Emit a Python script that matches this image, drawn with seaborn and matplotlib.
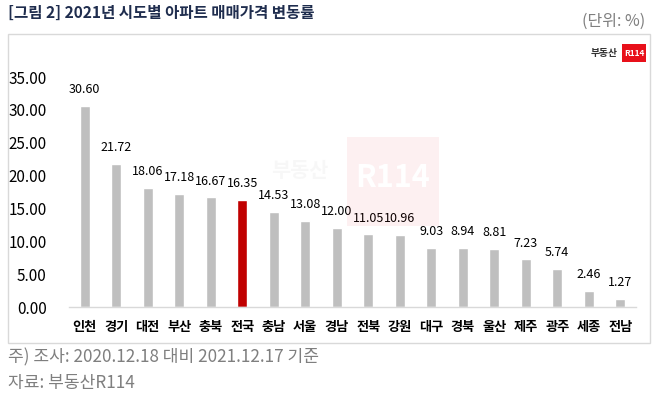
import matplotlib
matplotlib.use("Agg")
import matplotlib.pyplot as plt
import seaborn as sns
import pandas as pd
from matplotlib.patches import Rectangle

regions = ["인천", "경기", "대전", "부산", "충북", "전국", "충남", "서울", "경남",
           "전북", "강원", "대구", "경북", "울산", "제주", "광주", "세종", "전남"]
values = [30.60, 21.72, 18.06, 17.18, 16.67, 16.35, 14.53, 13.08, 12.00,
          11.05, 10.96, 9.03, 8.94, 8.81, 7.23, 5.74, 2.46, 1.27]
yticks = [0, 5, 10, 15, 20, 25, 30, 35]

sns.set_theme(style="white")
plt.rcParams['font.family'] = ['Noto Sans CJK KR', 'DejaVu Sans']

df = pd.DataFrame({"region": regions, "value": values})
colors = ["#c00000" if r == "전국" else "#bfbfbf" for r in regions]

fig = plt.figure(figsize=(6.58, 3.95), dpi=100)
W, H = 658, 395

# outer frame
fig.patches.append(Rectangle((8 / W, 1 - 343 / H), (650 - 8) / W, (343 - 34) / H,
                             transform=fig.transFigure, fill=False,
                             edgecolor="#d9d9d9", linewidth=1.0))

# watermark (behind chart)
fig.patches.append(Rectangle((347 / W, 1 - 226 / H), (439 - 347) / W, (226 - 137) / H,
                             transform=fig.transFigure, facecolor="#e8101a", alpha=0.06,
                             edgecolor="none", zorder=0))
fig.text(393 / W, 1 - 178 / H, "R114", fontsize=22, fontweight="bold", color="white",
         ha="center", va="center", zorder=0)
fig.text(300 / W, 1 - 170 / H, "부동산", fontsize=15, fontweight="bold", color="#999999",
         alpha=0.07, ha="center", va="center", zorder=0)

ax = fig.add_axes([69 / W, 1 - 307 / H, (636 - 69) / W, (307 - 77) / H])
ax.patch.set_alpha(0)
sns.barplot(data=df, x="region", y="value", hue="region", palette=colors,
            legend=False, width=0.32, ax=ax, saturation=1)

ax.set_ylim(0, 35)
ax.set_xlim(-0.5, 17.5)
ax.set_yticks(yticks)
ax.set_yticklabels([f"{t:.2f}" for t in yticks], fontsize=11, color="#000000")
ax.tick_params(axis="y", length=0, pad=16)
ax.tick_params(axis="x", length=0, pad=9)
for lbl in ax.get_xticklabels():
    lbl.set_fontweight("bold")
    lbl.set_fontsize(9.5)
    lbl.set_color("#000000")
ax.set_xlabel("")
ax.set_ylabel("")
for s in ["top", "right", "left"]:
    ax.spines[s].set_visible(False)
ax.spines["bottom"].set_color("#d9d9d9")
ax.spines["bottom"].set_linewidth(1.0)
ax.grid(False)

for i, v in enumerate(values):
    ax.text(i, v + 1.5, f"{v:.2f}", ha="center", va="bottom", fontsize=9, color="#000000")

# title and unit
fig.text(8 / W, 1 - 13 / H, "[그림 2] 2021년 시도별 아파트 매매가격 변동률", fontsize=11.2,
         fontweight="bold", color="#1f2d4e", ha="left", va="center")
fig.text(645 / W, 1 - 21 / H, "(단위: %)", fontsize=11.5, color="#7f7f7f",
         ha="right", va="center")

# logo
fig.text(618 / W, 1 - 53 / H, "부동산", fontsize=7, fontweight="bold", color="#333333",
         ha="right", va="center")
fig.patches.append(Rectangle((622 / W, 1 - 62 / H), 24 / W, 18 / H,
                             transform=fig.transFigure, facecolor="#e8101a",
                             edgecolor="none"))
fig.text(634 / W, 1 - 53 / H, "R114", fontsize=6, fontweight="bold", color="white",
         ha="center", va="center")

# footnotes
fig.text(8 / W, 1 - 357 / H, "주) 조사: 2020.12.18 대비 2021.12.17 기준", fontsize=12.3,
         color="#7f7f7f", ha="left", va="center")
fig.text(8 / W, 1 - 383 / H, "자료: 부동산R114", fontsize=12.3,
         color="#7f7f7f", ha="left", va="center")

fig.savefig("out.png", dpi=100)
